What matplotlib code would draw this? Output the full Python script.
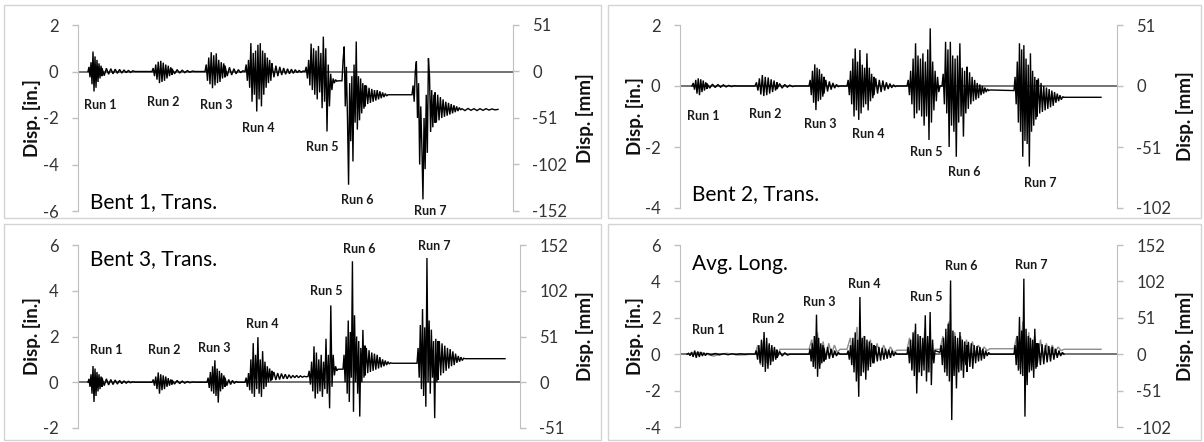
import numpy as np
import matplotlib
matplotlib.use("Agg")
import matplotlib.pyplot as plt
from matplotlib.patches import Rectangle

plt.rcParams['font.family'] = ['Lato', 'DejaVu Sans']
plt.rcParams['axes.unicode_minus'] = False

# ------------------------------------------------------------------
# DATA  (time in record-index units, displacement in inches)
# each segment: (t_start, t_end, samples)
# ------------------------------------------------------------------
run_names = ['Run 1', 'Run 2', 'Run 3', 'Run 4', 'Run 5', 'Run 6', 'Run 7']

bent1_segments = [
    (10, 24, [0.0, 0.2, -0.25, 0.4, -0.55, 0.86, -0.86, 0.65, -0.7, 0.5, -0.45, 0.35, -0.3, 0.25, -0.2]),
    (24, 57, [0.15, -0.18, 0.14, -0.12, 0.12, -0.1, 0.1, -0.08, 0.09, -0.07, 0.07, -0.05, 0.05, -0.04, 0.03, 0.0]),
    (74, 94, [0.0, 0.15, -0.2, 0.3, -0.35, 0.42, -0.5, 0.46, -0.45, 0.38, -0.4, 0.3, -0.3, 0.25, -0.2, 0.18, -0.15]),
    (94, 117, [0.12, -0.1, 0.08, -0.07, 0.06, -0.05, 0.04, -0.03, 0.02, 0.0]),
    (127, 147, [0.0, 0.3, -0.4, 0.6, -0.55, 0.83, -0.72, 0.7, -0.6, 0.78, -0.5, 0.5, -0.45, 0.4, -0.3, 0.35, -0.25]),
    (147, 167, [0.25, -0.2, 0.18, -0.15, 0.12, -0.1, 0.08, -0.05, 0.03, 0.0]),
    (167, 194, [0.0, 0.3, -0.4, 0.5, -0.7, 1.22, -1.3, 0.8, -1.0, 0.9, -1.72, 1.15, -1.2, 1.22, -1.5, 0.9, -1.0, 0.8,
                -0.7, 0.6, -0.5, 0.5, -0.4, 0.35]),
    (194, 227, [0.3, -0.25, 0.25, -0.2, 0.2, -0.15, 0.15, -0.12, 0.12, -0.1, 0.1, -0.08, 0.08, -0.05, 0.05, -0.03, 0.02, 0.0]),
    (227, 260, [0.0, 0.2, -0.3, 0.5, -0.6, 1.2, -0.8, 1.0, -1.0, 0.9, -1.2, 1.1, -0.9, 0.8, -1.58, 1.5, -1.3, 1.0,
                -2.58, 0.3, -1.5, -0.1, -0.8, -0.3, -0.5, -0.35, -0.42, -0.4]),
    (264, 287, [-0.4, 0.5, 1.07, -1.5, 0.2, -2.0, -4.87, -0.5, -3.0, -0.2, -3.87, 0.3, -2.2, 1.29, -2.5, -0.2, -2.1,
                -0.3, -1.8, -0.5, -1.6, -0.6]),
    (287, 310, [-1.5, -0.6, -1.4, -0.7, -1.35, -0.75, -1.3, -0.8, -1.25, -0.8, -1.2, -0.85, -1.15, -0.9, -1.1, -0.95,
                -1.05, -1.0]),
    (334, 357, [-1.0, -0.6, -1.3, 0.0, 0.43, -2.0, -0.5, -4.0, -1.5, -3.2, -5.5, -2.0, -4.2, -1.0, -3.5, 0.57, -0.2,
                -2.6, -0.8, -2.4, -1.0, -2.2]),
    (357, 384, [-0.9, -2.2, -1.0, -2.1, -1.1, -2.0, -1.2, -1.95, -1.3, -1.9, -1.35, -1.85, -1.4, -1.8, -1.45, -1.75,
                -1.5, -1.7, -1.55, -1.65, -1.6]),
    (384, 420, [-1.6, -1.68, -1.59, -1.67, -1.6, -1.68, -1.6, -1.67, -1.6, -1.66, -1.61, -1.65, -1.63]),
]

bent2_segments = [
    (12, 27, [0.0, 0.1, -0.12, 0.2, -0.25, 0.25, -0.3, 0.22, -0.2, 0.18, -0.15, 0.12, -0.1]),
    (27, 57, [0.08, -0.07, 0.06, -0.05, 0.05, -0.04, 0.04, -0.03, 0.02, -0.02, 0.01, 0.0]),
    (75, 97, [0.0, 0.12, -0.15, 0.25, -0.28, 0.36, -0.33, 0.3, -0.3, 0.28, -0.25, 0.22, -0.2, 0.18, -0.15, 0.12]),
    (97, 115, [-0.1, 0.08, -0.07, 0.05, -0.04, 0.03, -0.02, 0.0]),
    (129, 144, [0.0, 0.2, -0.3, 0.5, -0.55, 0.71, -0.79, 0.6, -0.5, 0.55, -0.45, 0.4, -0.35, 0.3]),
    (144, 160, [-0.25, 0.2, -0.18, 0.15, -0.12, 0.1, -0.07, 0.05, -0.02, 0.0]),
    (167, 194, [0.0, 0.2, -0.3, 0.5, -0.6, 0.9, -1.0, 1.23, -0.8, 0.8, -1.11, 1.18, -0.9, 0.7, -0.7, 0.6, -0.6, 1.07,
                -0.8, 0.6, -0.5, 0.4, -0.4, 0.3]),
    (194, 217, [-0.3, 0.25, -0.25, 0.2, -0.2, 0.18, -0.15, 0.12, -0.1, 0.08, -0.06, 0.04, -0.02, 0.0]),
    (227, 260, [0.0, 0.2, -0.3, 0.5, -0.6, 0.9, -1.06, 1.4, -0.9, 1.0, -0.8, 0.9, -1.0, 1.07, -1.3, 0.8, -1.0, 1.2,
                -1.77, 1.89, -1.2, 0.8, -0.8, 0.5, -0.5, 0.3, -0.2, 0.0]),
    (262, 287, [0.0, 0.4, -0.6, 1.45, -0.9, 1.2, -2.0, 1.45, -1.3, 1.0, -1.5, 0.9, -2.32, 1.0, -1.2, 1.4, -1.0, 0.6,
                -1.66, 0.5, -0.9, 0.4]),
    (287, 310, [0.63, -0.75, 0.45, -0.6, 0.3, -0.5, 0.2, -0.45, 0.1, -0.4, 0.05, -0.3, 0.0, -0.25, -0.05, -0.2, -0.1,
                -0.15, -0.13]),
    (334, 357, [-0.15, 0.3, -0.6, 0.8, -1.2, 1.4, -1.5, 1.2, -2.32, 1.34, -1.8, 0.9, -1.9, 0.7, -2.64, 1.07, -1.5, 0.5,
                -1.3, 0.3, -1.1, 0.2]),
    (357, 384, [-1.0, 0.25, -0.9, 0.1, -0.85, 0.0, -0.8, -0.05, -0.75, -0.1, -0.7, -0.15, -0.65, -0.2, -0.55, -0.25,
                -0.5, -0.3, -0.45, -0.35, -0.38]),
    (384, 421, [-0.37, -0.37]),
]

bent3_segments = [
    (10, 24, [0.0, 0.15, -0.2, 0.35, -0.5, 0.71, -0.86, 0.6, -0.6, 0.45, -0.4, 0.35, -0.3, 0.25, -0.2]),
    (24, 57, [0.2, -0.15, 0.15, -0.12, 0.12, -0.1, 0.1, -0.08, 0.08, -0.06, 0.06, -0.04, 0.04, -0.02, 0.02, 0.0]),
    (74, 94, [0.0, 0.12, -0.15, 0.25, -0.3, 0.43, -0.5, 0.35, -0.35, 0.3, -0.3, 0.25, -0.2, 0.18, -0.15, 0.12, -0.1]),
    (94, 117, [0.1, -0.08, 0.08, -0.06, 0.05, -0.04, 0.03, -0.02, 0.01, 0.0]),
    (129, 147, [0.0, 0.2, -0.25, 0.45, -0.4, 0.7, -0.5, 0.96, -0.6, 0.6, -0.89, 0.5, -0.4, 0.4, -0.3, 0.3, -0.2]),
    (147, 160, [0.2, -0.15, 0.12, -0.1, 0.08, -0.05, 0.03, 0.0]),
    (167, 194, [0.0, 0.2, -0.2, 0.4, -0.35, 1.0, -0.5, 1.71, -0.64, 1.2, -0.3, 1.97, -0.5, 1.0, -0.64, 1.36, -0.3, 0.9,
                -0.2, 0.7, 0.0, 0.6, 0.05, 0.5]),
    (194, 230, [0.1, 0.45, 0.1, 0.4, 0.12, 0.38, 0.15, 0.35, 0.15, 0.33, 0.18, 0.3, 0.2, 0.3, 0.2, 0.28, 0.22, 0.26,
                0.24, 0.25]),
    (230, 260, [0.25, 0.5, -0.1, 0.9, -0.4, 1.57, -0.71, 1.3, -0.5, 1.0, -0.4, 1.2, -0.64, 0.9, -0.3, 1.9, -0.5, 1.2,
                -1.14, 3.36, -0.2, 1.2, 0.3, 0.7, 0.5, 0.57]),
    (265, 287, [0.57, 1.2, 0.0, 2.0, -0.5, 2.7, -0.86, 2.2, 0.2, 5.29, -1.29, 2.93, 0.0, 2.0, -0.5, 1.8, -1.5, 1.5, 0.0,
                2.29, 0.2, 1.6]),
    (287, 314, [0.3, 1.5, 0.4, 1.4, 0.45, 1.3, 0.5, 1.25, 0.55, 1.2, 0.6, 1.1, 0.65, 1.0, 0.7, 0.95, 0.75, 0.9, 0.8,
                0.85, 0.83]),
    (339, 360, [0.83, 1.5, 0.2, 2.5, -0.3, 3.2, -0.6, 2.4, -1.07, 5.43, 0.0, 2.7, -0.5, 2.3, 0.2, 1.8, -1.57, 1.9, 0.0,
                1.8]),
    (360, 387, [0.1, 1.8, 0.3, 1.7, 0.4, 1.6, 0.5, 1.5, 0.6, 1.45, 0.7, 1.35, 0.75, 1.25, 0.85, 1.15, 0.9, 1.1, 0.95,
                1.05, 1.03]),
    (387, 427, [1.03, 1.03]),
]

avg_long_segments = [
    (7, 27, [0.0, 0.05, -0.08, 0.12, -0.15, 0.2, -0.2, 0.15, -0.15, 0.12, -0.1, 0.08, -0.08, 0.06]),
    (27, 73, [0.05, -0.04, 0.04, -0.03, 0.03, -0.03, 0.02, -0.02, 0.02, -0.01, 0.01, 0.0]),
    (75, 97, [0.0, 0.2, -0.3, 0.5, -0.5, 0.8, -0.7, 1.22, -0.97, 0.9, -0.8, 0.6, -0.6, 0.5, -0.4, 0.4, -0.3, 0.25]),
    (97, 110, [-0.2, 0.15, -0.1, 0.08, -0.05, 0.0]),
    (129, 144, [0.0, 0.3, -0.4, 0.6, -0.7, 1.0, -0.8, 2.17, -1.24, 0.9, -0.8, 0.6, -0.5, 0.5, -0.4]),
    (144, 160, [0.35, -0.3, 0.4, -0.25, 0.3, -0.2, 0.2, -0.1, 0.1, 0.0]),
    (167, 194, [0.0, 0.2, -0.3, 0.5, -0.6, 0.9, -1.0, 1.2, -1.5, 0.8, -2.34, 3.14, -1.2, 0.9, -1.0, 1.0, -1.4, 0.8,
                -0.9, 0.7, -0.7, 0.6, -0.5, 0.5]),
    (194, 217, [-0.5, 0.45, -0.4, 0.4, -0.35, 0.35, -0.3, 0.3, -0.25, 0.25, -0.2, 0.2, -0.1, 0.1, 0.0]),
    (227, 255, [0.0, 0.4, -0.5, 0.8, -0.9, 1.2, -1.2, 1.68, -2.16, 1.1, -1.0, 1.0, -1.2, 0.9, -0.9, 2.14, -1.5, 1.0,
                -1.0, 2.32, -1.7, 0.8, -0.5, 0.2]),
    (260, 287, [0.1, 0.5, -0.6, 0.9, -1.0, 1.4, -1.2, 1.68, -1.5, 4.05, -3.62, 1.3, -1.2, 1.0, -1.88, 0.9, -1.0, 1.22,
                -0.9, 0.8, -1.3, 0.7, -0.6, 0.5]),
    (287, 310, [-0.97, 0.68, -0.7, 0.6, -0.8, 0.5, -0.5, 0.45, -0.4, 0.4, -0.35, 0.3, -0.25, 0.2, -0.1, 0.1, 0.0]),
    (334, 357, [0.0, 0.5, -0.6, 1.0, -0.9, 2.05, -1.1, 1.3, -1.2, 4.15, -3.43, 1.4, -1.7, 1.0, -1.0, 0.9, -0.9, 0.8,
                -1.3, 1.4, -0.8, 0.6]),
    (357, 384, [-0.7, 0.6, -0.6, 0.55, -0.55, 0.5, -0.45, 0.45, -0.4, 0.4, -0.3, 0.3, -0.2, 0.2, -0.1, 0.1, 0.0]),
]

avg_long_second_segments = [
    (7, 73, [0.0, 0.1, -0.1, 0.05, -0.05, 0.0]),
    (75, 100, [0.0, 0.5, -0.6, 0.7, -0.5, 0.5, -0.4, 0.3, -0.2, 0.27]),
    (129, 160, [0.27, 0.8, -0.4, 1.2, -0.6, 0.7, -0.3, 0.6, 0.0, 0.5, 0.1, 0.27]),
    (167, 217, [0.27, 0.9, -0.7, 1.5, -1.2, 1.0, -0.6, 0.8, -0.3, 0.6, -0.1, 0.5, 0.0, 0.4, 0.1, 0.22]),
    (227, 255, [0.22, 0.9, -0.8, 1.3, -1.4, 1.0, -0.6, 1.4, -1.0, 0.8, -0.3, 0.27]),
    (260, 310, [0.27, 1.0, -0.8, 1.8, -1.5, 1.2, -0.8, 1.0, -0.5, 0.8, -0.3, 0.7, 0.0, 0.5, 0.1, 0.4, 0.2, 0.3]),
    (334, 384, [0.3, 1.0, -0.8, 1.8, -1.5, 1.2, -0.7, 1.0, -0.5, 0.8, -0.2, 0.6, 0.0, 0.5, 0.1, 0.4, 0.2, 0.27]),
    (384, 421, [0.27, 0.27]),
]

bent1_yticks = [-6, -4, -2, 0, 2]
bent2_yticks = [-4, -2, 0, 2]
bent3_yticks = [-2, 0, 2, 4, 6]
avg_yticks = [-4, -2, 0, 2, 4, 6]

# ------------------------------------------------------------------
# LAYOUT (pixels in a 1204 x 442 canvas)
# ------------------------------------------------------------------
W, H = 1204, 442
fig = plt.figure(figsize=(W / 100, H / 100), dpi=100)

def fx(x):
    return x / W

def fy(y):
    return 1 - y / H

# panel frames
for (x0, y0, x1, y1) in [(4, 5, 601, 218), (608, 5, 1201, 218), (4, 224, 601, 440), (608, 224, 1201, 440)]:
    fig.patches.append(Rectangle((fx(x0), fy(y1)), fx(x1 - x0), (y1 - y0) / H, transform=fig.transFigure,
                                 fill=False, edgecolor='#d4d4d4', linewidth=1.0))

panels = [
    dict(title='Bent 1, Trans.', segs=[bent1_segments], colors=['black'], box=(78, 513, 25, 211), ylim=(-6, 2),
         yticks=bent1_yticks, title_at=(12, -5.6),
         run_at=[(22, -1.46), (85, -1.33), (138, -1.42), (180, -2.45), (244, -3.23), (279, -5.51), (352, -6.02)],
         ylab_x=(32, 585)),
    dict(title='Bent 2, Trans.', segs=[bent2_segments], colors=['black'], box=(680, 1117, 25, 208), ylim=(-4, 2),
         yticks=bent2_yticks, title_at=(12, -3.54),
         run_at=[(23, -1.0), (85, -0.92), (140, -1.25), (188, -1.57), (246, -2.15), (284, -2.81), (360, -3.19)],
         ylab_x=(635, 1185)),
    dict(title='Bent 3, Trans.', segs=[bent3_segments], colors=['black'], box=(78, 520, 245, 428), ylim=(-2, 6),
         yticks=bent3_yticks, title_at=(12, 5.4),
         run_at=[(28, 1.4), (86, 1.4), (136, 1.5), (184, 2.53), (248, 4.0), (281, 5.83), (356, 5.96)],
         ylab_x=(32, 585)),
    dict(title='Avg. Long.', segs=[avg_long_second_segments, avg_long_segments], colors=['#8c8c8c', 'black'],
         box=(680, 1117, 245, 427), ylim=(-4, 6), yticks=avg_yticks, title_at=(12, 4.97),
         run_at=[(28, 1.35), (88, 1.92), (139, 2.87), (184, 3.87), (246, 3.14), (281, 4.82), (351, 4.88)],
         ylab_x=(635, 1185)),
]

spine_c = '#bfbfbf'
tick_c = '#333333'


def build(segments):
    ts, vs = [], []
    for t0, t1, vals in segments:
        ts.append(np.linspace(t0, t1, len(vals)))
        vs.append(np.asarray(vals, dtype=float))
    return np.concatenate(ts), np.concatenate(vs)


for p in panels:
    x0, x1, y0, y1 = p['box']
    ax = fig.add_axes([fx(x0), fy(y1), (x1 - x0) / W, (y1 - y0) / H])
    ax.set_xlim(0, x1 - x0)
    ax.set_ylim(*p['ylim'])
    ax.patch.set_alpha(0)
    for s in ['top', 'bottom', 'right']:
        ax.spines[s].set_visible(False)
    ax.spines['left'].set_color(spine_c)
    ax.set_xticks([])
    ax.set_yticks(p['yticks'])
    ax.set_yticklabels([str(v) for v in p['yticks']])
    ax.tick_params(axis='y', direction='out', length=4, width=1, color=spine_c, labelcolor=tick_c,
                   labelsize=12, pad=10)
    ax.axhline(0, color='#4d4d4d', lw=1.1, zorder=1)
    for segs, c in zip(p['segs'], p['colors']):
        t, v = build(segs)
        ax.plot(t, v, color=c, lw=1.0, zorder=2, solid_joinstyle='miter')

    ax2 = ax.twinx()
    ax2.set_ylim(*p['ylim'])
    for s in ['top', 'bottom', 'left']:
        ax2.spines[s].set_visible(False)
    ax2.spines['right'].set_color(spine_c)
    ax2.set_yticks(p['yticks'])
    ax2.set_yticklabels([str(int(round(v * 25.4))) for v in p['yticks']])
    ax2.tick_params(axis='y', direction='out', length=4, width=1, color=spine_c, labelcolor=tick_c,
                    labelsize=12, pad=10)

    ax.text(p['title_at'][0], p['title_at'][1], p['title'], fontsize=15, color='black',
            ha='left', va='center', zorder=5)
    for name, (tx, ty) in zip(run_names, p['run_at']):
        ax.text(tx, ty, name, fontsize=9, fontweight='bold', color='#1a1a1a', ha='center', va='center',
                clip_on=False, zorder=5)

    yc = fy((y0 + y1) / 2)
    fig.text(fx(p['ylab_x'][0]), yc, 'Disp. [in.]', rotation=90, fontsize=13.5, fontweight='bold',
             color='#111111', ha='center', va='center')
    fig.text(fx(p['ylab_x'][1]), yc, 'Disp. [mm]', rotation=90, fontsize=13.5, fontweight='bold',
             color='#111111', ha='center', va='center')

fig.savefig('out.png', dpi=100)
